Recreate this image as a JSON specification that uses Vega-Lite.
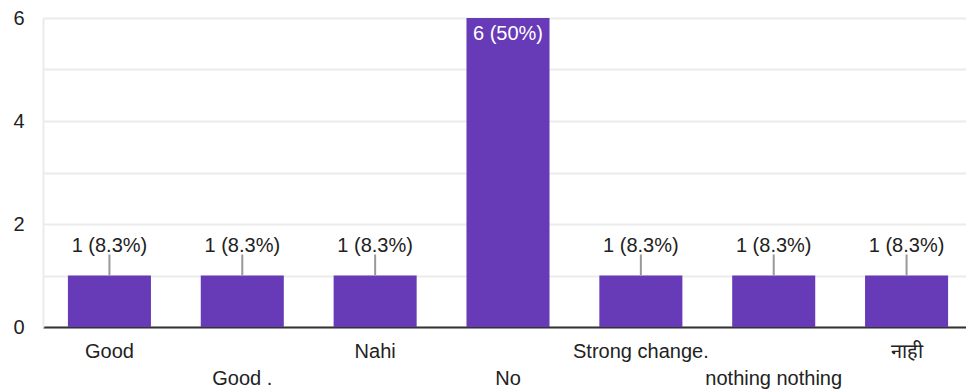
{
  "$schema": "https://vega.github.io/schema/vega-lite/v6.json",
  "autosize": "none",
  "padding": {"left": 43, "top": 18, "right": 0, "bottom": 65},
  "width": 930,
  "height": 309,
  "background": "white",
  "config": {"view": {"stroke": null}, "font": "Liberation Sans"},
  "data": {"values": [
    {"answer": "Good", "count": 1, "label": "1 (8.3%)"},
    {"answer": "Good .", "count": 1, "label": "1 (8.3%)"},
    {"answer": "Nahi", "count": 1, "label": "1 (8.3%)"},
    {"answer": "No", "count": 6, "label": "6 (50%)"},
    {"answer": "Strong change.", "count": 1, "label": "1 (8.3%)"},
    {"answer": "nothing nothing", "count": 1, "label": "1 (8.3%)"},
    {"answer": "नाही", "count": 1, "label": "1 (8.3%)"}
  ]},
  "encoding": {
    "x": {
      "field": "answer", "type": "nominal", "sort": null,
      "scale": {"paddingInner": 0.375, "paddingOuter": 0.1875},
      "axis": {
        "title": null, "labelAngle": 0, "ticks": false,
        "labelFontSize": 20, "labelColor": "#222", "labelPadding": 14,
        "labelLineHeight": 27, "labelOverlap": false, "labelLimit": 0,
        "labelExpr": "indexof(['Good .', 'No', 'nothing nothing'], datum.value) >= 0 ? ['', datum.label] : datum.label",
        "domainColor": "#333", "domainWidth": 2, "grid": false,
        "labelFont": "Liberation Sans"
      }
    },
    "y": {
      "field": "count", "type": "quantitative",
      "scale": {"domain": [0, 6], "nice": false},
      "axis": {
        "title": null, "values": [0, 1, 2, 3, 4, 5, 6],
        "labelExpr": "datum.value % 2 ? '' : datum.label",
        "ticks": false, "domain": true, "domainColor": "#ebebeb", "domainWidth": 2,
        "gridColor": "#ebebeb", "gridWidth": 2,
        "labelFontSize": 20, "labelColor": "#222", "labelPadding": 19
      }
    }
  },
  "layer": [
    {"mark": {"type": "bar", "color": "#673AB7"}},
    {
      "transform": [{"filter": "datum.count < 6"}],
      "mark": {"type": "rule", "color": "#999", "strokeWidth": 2, "y2Offset": -21},
      "encoding": {"y2": {"field": "count"}}
    },
    {
      "transform": [{"filter": "datum.count < 6"}],
      "mark": {"type": "text", "fontSize": 20, "color": "#222", "dy": -30, "baseline": "middle"},
      "encoding": {"text": {"field": "label"}}
    },
    {
      "transform": [{"filter": "datum.count >= 6"}],
      "mark": {"type": "text", "fontSize": 20, "color": "white", "dy": 16, "baseline": "middle"},
      "encoding": {"text": {"field": "label"}}
    }
  ]
}
